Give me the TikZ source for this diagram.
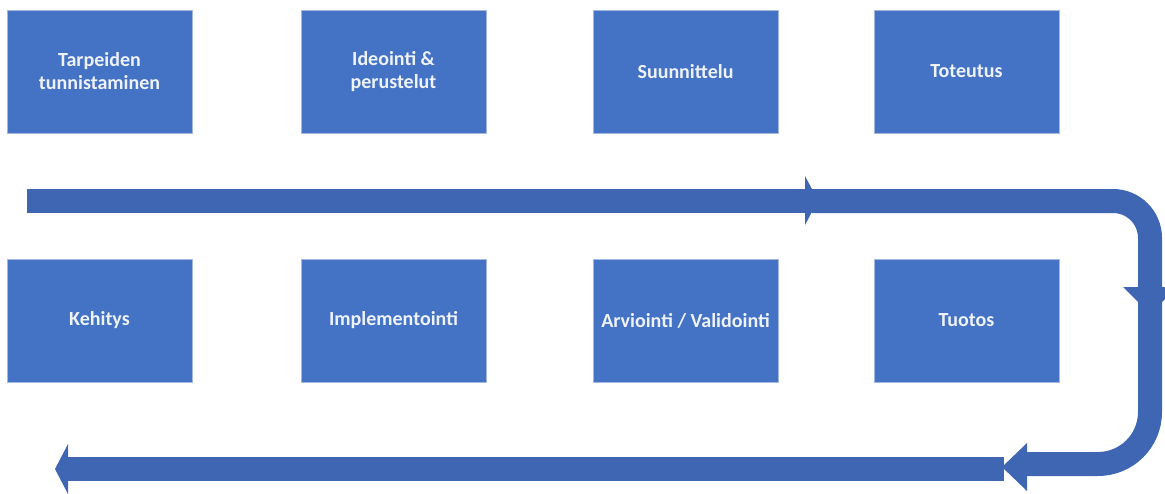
\documentclass[tikz,border=0pt]{standalone}
\usepackage{fontspec}
\setmainfont{Carlito}
\definecolor{boxblue}{HTML}{4472C4}
\definecolor{boxedge}{HTML}{A3B8E0}
\definecolor{arrowblue}{HTML}{3E66B3}
\definecolor{txt}{HTML}{EEF2F9}
\begin{document}
\begin{tikzpicture}[x=1pt,y=-1pt,
  stage/.style={draw=boxedge, line width=0.8pt, fill=boxblue,
    minimum width=185pt, minimum height=123pt, inner sep=0pt,
    text=txt, align=center, font=\fontsize{20}{23}\selectfont\bfseries},
  band/.style={draw=arrowblue, line width=24pt},
  head/.style={fill=arrowblue}]
\path[use as bounding box, fill=white] (0,0) rectangle (1165,493);
\clip (0,0) rectangle (1165,493);

% stages
\node[stage] (s1) at (99.5,71.5) {Tarpeiden\\tunnistaminen};
\node[stage] (s2) at (393.5,71.5) {Ideointi \&\\perustelut};
\node[stage] (s3) at (685.5,71.5) {Suunnittelu};
\node[stage] (s4) at (966.5,71.5) {Toteutus};
\node[stage] (s5) at (99.5,320.5) {Kehitys};
\node[stage] (s6) at (393.5,320.5) {Implementointi};
\node[stage] (s7) at (685.5,320.5) {Arviointi / Validointi};
\node[stage] (s8) at (966.5,320.5) {Tuotos};

% flow band: bottom straight arrow
\draw[band] (1004,469) -- (67,469);
\fill[head] (68,444) -- (55,469) -- (68,494) -- cycle;

% lower bent arrow
\draw[band, rounded corners=52pt] (1150,300) -- (1150,464) -- (1025,464);
\fill[head] (1027,443) -- (1002,467) -- (1027,491) -- cycle;

% upper bent arrow
\draw[band, rounded corners=37pt] (812,201) -- (1150,201) -- (1150,289);
\fill[head] (1123,287) -- (1177,287) -- (1150,314) -- cycle;

% top straight arrow
\draw[band] (27,200.5) -- (806,200.5);
\fill[head] (805,176) -- (818,200.5) -- (805,225) -- cycle;
\end{tikzpicture}
\end{document}
